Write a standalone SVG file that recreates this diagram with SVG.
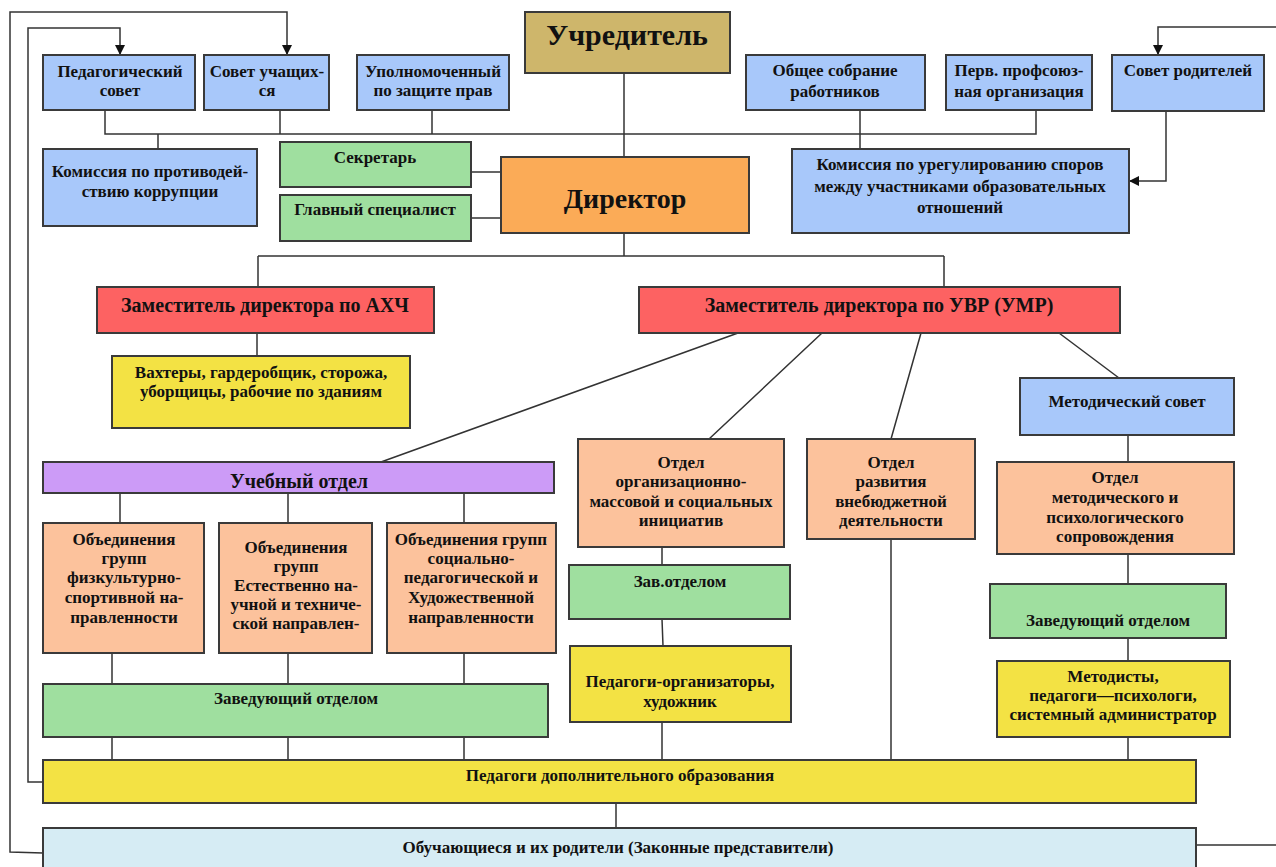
<svg xmlns="http://www.w3.org/2000/svg" width="1276" height="867" viewBox="0 0 1276 867">
<style>
.b{stroke:#3a3a3a;stroke-width:2}
.blue{fill:#a8c8fa}.khaki{fill:#ceb66b}.orange{fill:#fbab57}.green{fill:#9fdf9f}.red{fill:#fd6262}.yellow{fill:#f3e244}.peach{fill:#fcc29c}.purple{fill:#cc9bf7}.cyan{fill:#d6ecf4}
text{font-family:"Liberation Serif","Times New Roman",serif;font-weight:bold;fill:#111;text-anchor:middle;font-size:17px}
.big{font-size:30px}.dir{font-size:28px}.mid{font-size:20px}
.c{fill:none;stroke:#333;stroke-width:1.5}
</style>
<defs>
<marker id="arr" viewBox="0 0 10 10" refX="10" refY="5" markerWidth="10" markerHeight="10" markerUnits="userSpaceOnUse" orient="auto"><path d="M0,0L10,5L0,10z" fill="#111"/></marker>
</defs>
<rect width="1276" height="867" fill="#fff"/>
<g id="connectors" class="c">
<path d="M105,110V134H1036V110M280,110V134M432,110V134M860,110V149M158,134V149"/>
<path d="M624,73V157"/>
<path d="M471,172H501M471,218H501"/>
<path d="M624,233V256M258,256H944M258,256V287M944,256V287"/>
<path d="M257,333V356"/>
<path d="M738,333L381,462M822,333L709,439M921,333L891,439M1059,333L1119,378"/>
<path d="M1128,435V462"/>
<path d="M120,493V523M288,493V523M464,493V523"/>
<path d="M112,653V684M288,653V684M464,653V684"/>
<path d="M112,737V760M288,737V760M464,737V760"/>
<path d="M662,547V565M662,619L663,646M662,722V760"/>
<path d="M891,539V760"/>
<path d="M1128,554V584M1128,638V661M1128,737V760"/>
<path d="M616,803V828"/>
<path d="M43,853L10,852V12H287V55" marker-end="url(#arr)"/>
<path d="M43,782H28V28H120V55" marker-end="url(#arr)"/>
<path d="M1196,845H1290V27H1158V55" marker-end="url(#arr)"/>
<path d="M1166,111V181H1129" marker-end="url(#arr)"/>
</g>
<g id="uchreditel"><rect class="b khaki" x="525" y="12" width="205" height="61"/><text class="big" x="627" y="45">Учредитель</text></g>
<g id="pedsovet"><rect class="b blue" x="43" y="55" width="152" height="55"/><text x="120" y="77">Педагогический</text><text x="120" y="96">совет</text></g>
<g id="sovet-uch"><rect class="b blue" x="204" y="55" width="125" height="55"/><text x="267" y="77">Совет учащих-</text><text x="267" y="96">ся</text></g>
<g id="upolnom"><rect class="b blue" x="357" y="55" width="152" height="55"/><text x="433" y="77">Уполномоченный</text><text x="433" y="96">по защите прав</text></g>
<g id="obsch-sobr"><rect class="b blue" x="746" y="55" width="179" height="55"/><text x="835" y="76">Общее собрание</text><text x="835" y="97">работников</text></g>
<g id="profsoyuz"><rect class="b blue" x="946" y="55" width="146" height="55"/><text x="1019" y="76">Перв. профсоюз-</text><text x="1019" y="97">ная организация</text></g>
<g id="sovet-rod"><rect class="b blue" x="1112" y="55" width="152" height="56"/><text x="1188" y="76">Совет родителей</text></g>
<g id="kom-korr"><rect class="b blue" x="43" y="149" width="214" height="77"/><text x="150" y="177">Комиссия по противодей-</text><text x="150" y="197">ствию коррупции</text></g>
<g id="sekretar"><rect class="b green" x="280" y="142" width="191" height="45"/><text x="375" y="163">Секретарь</text></g>
<g id="gl-spec"><rect class="b green" x="280" y="195" width="191" height="46"/><text x="375" y="215">Главный специалист</text></g>
<g id="direktor"><rect class="b orange" x="501" y="157" width="248" height="76"/><text class="dir" x="625" y="208">Директор</text></g>
<g id="kom-spor"><rect class="b blue" x="792" y="149" width="337" height="84"/><text x="960" y="170">Комиссия по урегулированию споров</text><text x="960" y="192">между участниками образовательных</text><text x="960" y="213">отношений</text></g>
<g id="zam-ahch"><rect class="b red" x="97" y="287" width="337" height="46"/><text class="mid" x="265" y="312">Заместитель директора по АХЧ</text></g>
<g id="vahtery"><rect class="b yellow" x="112" y="356" width="298" height="72"/><text x="261" y="378">Вахтеры, гардеробщик, сторожа,</text><text x="261" y="397">уборщицы, рабочие по зданиям</text></g>
<g id="zam-uvr"><rect class="b red" x="639" y="287" width="481" height="46"/><text class="mid" x="879" y="312">Заместитель директора по УВР (УМР)</text></g>
<g id="met-sovet"><rect class="b blue" x="1020" y="378" width="214" height="57"/><text x="1127" y="407">Методический совет</text></g>
<g id="ucheb-otdel"><rect class="b purple" x="43" y="462" width="511" height="31"/><text class="mid" x="299" y="488">Учебный отдел</text></g>
<g id="otdel-org"><rect class="b peach" x="578" y="439" width="206" height="108"/><text x="681" y="468">Отдел</text><text x="681" y="487">организационно-</text><text x="681" y="507">массовой и социальных</text><text x="681" y="526">инициатив</text></g>
<g id="otdel-vneb"><rect class="b peach" x="807" y="439" width="168" height="100"/><text x="891" y="468">Отдел</text><text x="891" y="487">развития</text><text x="891" y="507">внебюджетной</text><text x="891" y="526">деятельности</text></g>
<g id="otdel-met"><rect class="b peach" x="997" y="462" width="237" height="92"/><text x="1115" y="483">Отдел</text><text x="1115" y="503">методического и</text><text x="1115" y="523">психологического</text><text x="1115" y="542">сопровождения</text></g>
<g id="obed-1"><rect class="b peach" x="43" y="523" width="161" height="130"/><text x="124" y="545">Объединения</text><text x="124" y="564">групп</text><text x="124" y="583">физкультурно-</text><text x="124" y="603">спортивной  на-</text><text x="124" y="623">правленности</text></g>
<g id="obed-2"><rect class="b peach" x="219" y="523" width="153" height="130"/><text x="296" y="553">Объединения</text><text x="296" y="572">групп</text><text x="296" y="591">Естественно на-</text><text x="296" y="610">учной и техниче-</text><text x="296" y="629">ской направлен-</text></g>
<g id="obed-3"><rect class="b peach" x="387" y="523" width="169" height="130"/><text x="471" y="545">Объединения групп</text><text x="471" y="564">социально-</text><text x="471" y="583">педагогической  и</text><text x="471" y="603">Художественной</text><text x="471" y="623">направленности</text></g>
<g id="zav-left"><rect class="b green" x="43" y="684" width="505" height="53"/><text x="296" y="704">Заведующий отделом</text></g>
<g id="zav-mid"><rect class="b green" x="569" y="565" width="221" height="54"/><text x="680" y="587">Зав.отделом</text></g>
<g id="ped-org"><rect class="b yellow" x="570" y="646" width="221" height="76"/><text x="680" y="687">Педагоги-организаторы,</text><text x="680" y="707">художник</text></g>
<g id="zav-right"><rect class="b green" x="990" y="584" width="236" height="54"/><text x="1108" y="626">Заведующий  отделом</text></g>
<g id="metodisty"><rect class="b yellow" x="997" y="661" width="233" height="76"/><text x="1113" y="682">Методисты,</text><text x="1113" y="701">педагоги—психологи,</text><text x="1113" y="720">системный администратор</text></g>
<g id="ped-dop"><rect class="b yellow" x="43" y="760" width="1153" height="43"/><text x="620" y="781">Педагоги дополнительного образования</text></g>
<g id="obuch"><rect class="b cyan" x="43" y="828" width="1153" height="48"/><text x="618" y="853">Обучающиеся и их родители (Законные представители)</text></g>
</svg>
